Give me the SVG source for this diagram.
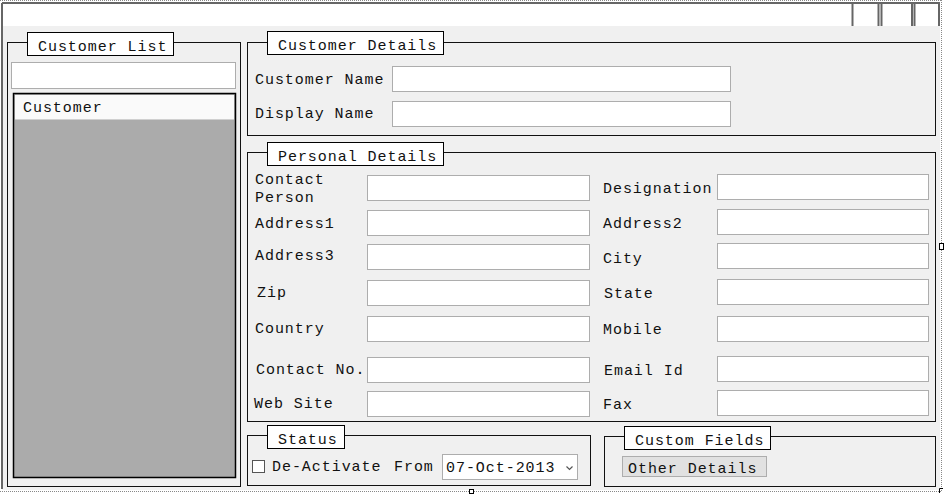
<svg xmlns="http://www.w3.org/2000/svg" width="944" height="494" viewBox="0 0 944 494">
<style>
text{font-family:"Liberation Mono","Courier New",monospace;font-size:15px;letter-spacing:0.95px;fill:#111}
.grp{fill:none;stroke:#111;stroke-width:1}
.leg{fill:#fff;stroke:#000;stroke-width:1}
.inp{fill:#fff;stroke:#adadad;stroke-width:1}
.tb{stroke:#666;stroke-width:2}
.dot{fill:none;stroke:#888;stroke-width:1;stroke-dasharray:1 1}
</style>
<rect x="0" y="0" width="944" height="494" fill="#fff"/>
<rect x="2" y="4" width="938" height="486" fill="#f0f0f0"/>
<g id="titlebar">
<rect x="3" y="4" width="936" height="22" fill="#fff"/>
<line class="tb" x1="2" y1="3" x2="940" y2="3"/>
<line class="tb" x1="2" y1="3" x2="2" y2="489"/>
<line class="tb" x1="939" y1="3" x2="939" y2="26"/>
<line class="tb" x1="852.5" y1="4" x2="852.5" y2="26"/>
<line class="tb" x1="878.5" y1="4" x2="878.5" y2="26"/>
<line class="tb" x1="881.5" y1="4" x2="881.5" y2="26"/>
<line class="tb" x1="912" y1="4" x2="912" y2="26"/>
<line class="tb" x1="914.5" y1="4" x2="914.5" y2="26"/>
</g>
<g id="frame">
<line class="dot" x1="0" y1="0.5" x2="942" y2="0.5"/>
<line class="dot" x1="0" y1="491.5" x2="942" y2="491.5"/>
<line class="dot" x1="941.5" y1="0" x2="941.5" y2="492"/>
<rect x="939.5" y="243.5" width="4" height="6" fill="#fff" stroke="#000"/>
<rect x="469.5" y="489.5" width="4" height="4" fill="#fff" stroke="#000"/>
<path d="M939.5 493 V488.5 H943" fill="none" stroke="#000"/>
</g>
<g id="customer-list">
<rect class="grp" x="7.5" y="42.5" width="233" height="444"/>
<rect class="leg" x="27.5" y="32.5" width="146" height="23"/>
<text x="38" y="51">Customer List</text>
<rect class="inp" x="11.5" y="62.5" width="224" height="26"/>
<rect x="13.5" y="93.5" width="222" height="384" fill="#ababab" stroke="#000" stroke-width="1.5"/>
<rect x="15" y="95" width="219" height="24" fill="#fafafa"/>
<line x1="15" y1="119.5" x2="234" y2="119.5" stroke="#d0d0d0"/>
<text x="23" y="112">Customer</text>
</g>
<g id="customer-details">
<rect class="grp" x="247.5" y="42.5" width="688" height="93"/>
<rect class="leg" x="267.5" y="31.5" width="176" height="23"/>
<text x="278" y="50">Customer Details</text>
<text x="255" y="84">Customer Name</text>
<rect class="inp" x="392.5" y="66.5" width="338" height="25"/>
<text x="255" y="118">Display Name</text>
<rect class="inp" x="392.5" y="101.5" width="338" height="25"/>
</g>
<g id="personal-details">
<rect class="grp" x="247.5" y="152.5" width="688" height="269"/>
<rect class="leg" x="267.5" y="142.5" width="176" height="23"/>
<text x="278" y="161">Personal Details</text>
<text x="255" y="184">Contact</text>
<text x="255" y="202">Person</text>
<rect class="inp" x="367.5" y="175.5" width="222" height="25"/>
<text x="255" y="228">Address1</text>
<rect class="inp" x="367.5" y="210.5" width="222" height="25"/>
<text x="255" y="260">Address3</text>
<rect class="inp" x="367.5" y="244.5" width="222" height="25"/>
<text x="257" y="297">Zip</text>
<rect class="inp" x="367.5" y="280.5" width="222" height="25"/>
<text x="255" y="333">Country</text>
<rect class="inp" x="367.5" y="316.5" width="222" height="25"/>
<text x="256" y="374">Contact No.</text>
<rect class="inp" x="367.5" y="357.5" width="222" height="25"/>
<text x="254" y="408">Web Site</text>
<rect class="inp" x="367.5" y="391.5" width="222" height="25"/>
<text x="603" y="193">Designation</text>
<rect class="inp" x="717.5" y="174.5" width="211" height="25"/>
<text x="603" y="228">Address2</text>
<rect class="inp" x="717.5" y="209.5" width="211" height="25"/>
<text x="603" y="263">City</text>
<rect class="inp" x="717.5" y="243.5" width="211" height="25"/>
<text x="604" y="298">State</text>
<rect class="inp" x="717.5" y="279.5" width="211" height="25"/>
<text x="603" y="334">Mobile</text>
<rect class="inp" x="717.5" y="316.5" width="211" height="25"/>
<text x="604" y="375">Email Id</text>
<rect class="inp" x="717.5" y="356.5" width="211" height="25"/>
<text x="603" y="409">Fax</text>
<rect class="inp" x="717.5" y="390.5" width="211" height="25"/>
</g>
<g id="status">
<rect class="grp" x="247.5" y="435.5" width="343" height="50"/>
<rect class="leg" x="267.5" y="425.5" width="77" height="23"/>
<text x="278" y="444">Status</text>
<rect x="252.5" y="460.5" width="12" height="12" fill="#fff" stroke="#555"/>
<text x="272" y="471">De-Activate</text>
<text x="394" y="471">From</text>
<rect class="inp" x="442.5" y="454.5" width="135" height="25"/>
<text x="446" y="472">07-Oct-2013</text>
<path d="M566.5 466.5 L569.5 469.5 L572.5 466.5" fill="none" stroke="#555" stroke-width="1.2"/>
</g>
<g id="custom-fields">
<rect class="grp" x="604.5" y="436.5" width="331" height="50"/>
<rect class="leg" x="624.5" y="426.5" width="146" height="23"/>
<text x="635" y="445">Custom Fields</text>
<rect x="622.5" y="456.5" width="144" height="20" fill="#e1e1e1" stroke="#adadad"/>
<text x="628" y="473">Other Details</text>
</g>
<g id="connectors"/>
</svg>
